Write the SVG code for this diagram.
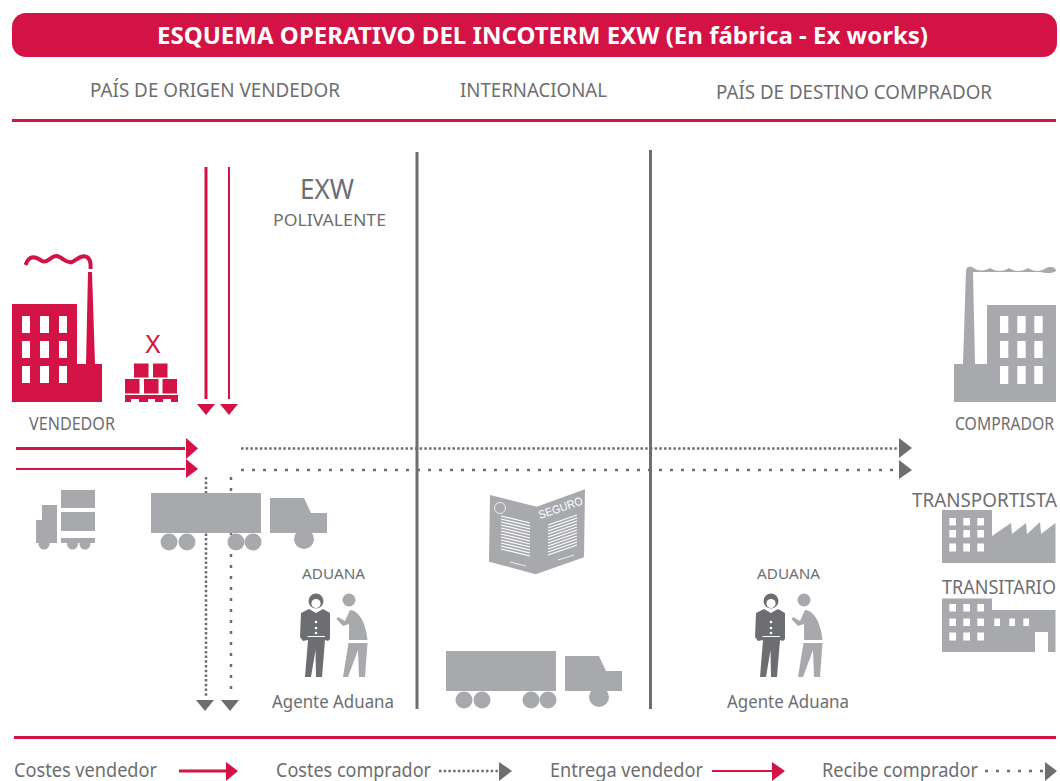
<svg xmlns="http://www.w3.org/2000/svg" xmlns:xlink="http://www.w3.org/1999/xlink" width="1060" height="781" viewBox="0 0 1060 781">
<style>
text{font-family:"Noto Sans","Open Sans","Liberation Sans",sans-serif;fill:#6d6e71}
.r{fill:#d31245}.g{fill:#a7a9ac}.d{fill:#6d6e71}.w{fill:#fff}
.ln{fill:none;stroke:#d31245}
.dt{fill:none;stroke:#6d6e71;stroke-width:2.5}
.dn{stroke-dasharray:2.5 2.2}.sp{stroke-dasharray:3 8}
.div{fill:none;stroke:#6d6e71;stroke-width:3}
.rule{fill:none;stroke:#d31245;stroke-width:3}
.ps{stroke:#a7a9ac;stroke-width:.1}
</style>
<defs>
<g id="wheels"><circle cx="169" cy="542" r="8.5" class="g"/><circle cx="187" cy="542" r="8.5" class="g"/><circle cx="236" cy="542" r="8.5" class="g"/><circle cx="253" cy="542" r="8.5" class="g"/></g>
<g id="truck">
<rect x="151" y="493" width="110" height="40" class="g"/>
<use xlink:href="#wheels" href="#wheels"/>
<path class="g" d="M270 498H304L311 513H327V533H270Z"/>
<circle cx="304" cy="539" r="10" class="g"/>
</g>
<g id="agents">
<circle cx="316" cy="601" r="7.5" class="d"/><circle cx="316" cy="603.5" r="4.6" class="w"/>
<path class="d" d="M309 609L316 613L323 609L330 613L330 639L328 641L325 640L322 677H316L315.500 650L311 677H305L308 640L303 641L300 637L301 613Z"/>
<path d="M307.500 636.500H325" fill="none" stroke="#fff" stroke-width="1"/>
<circle cx="316" cy="622" r="1.300" class="w"/><circle cx="316" cy="628" r="1.300" class="w"/><circle cx="316" cy="633" r="1.300" class="w"/>
<circle cx="349" cy="600" r="6.500" class="g"/>
<path class="g" d="M350 610C358 610 366 622 367.500 640H349V624L343 626L336.500 619L338 617L345 621Z"/>
<path class="g" d="M348.500 643H367.500L365 677H359L358 650L348 677H343Z"/>
</g>
</defs>

<g id="header">
<rect x="12" y="13" width="1045" height="44" rx="14" class="r"/>
<text x="157" y="44" font-size="24" font-weight="700" style="fill:#fff" textLength="771" lengthAdjust="spacingAndGlyphs">ESQUEMA OPERATIVO DEL INCOTERM EXW (En fábrica - Ex works)</text>
</g>
<g id="columns">
<text x="90" y="97" font-size="20" textLength="250" lengthAdjust="spacingAndGlyphs">PAÍS DE ORIGEN VENDEDOR</text>
<text x="460" y="97" font-size="20" textLength="147" lengthAdjust="spacingAndGlyphs">INTERNACIONAL</text>
<text x="716" y="99" font-size="20" textLength="276" lengthAdjust="spacingAndGlyphs">PAÍS DE DESTINO COMPRADOR</text>
<path class="rule" d="M12 120.500H1056"/>
<path class="div" d="M417 152V709"/>
<path class="div" d="M650.500 150V709"/>
<path class="rule" d="M14 737.500H1056"/>
</g>
<g id="exw">
<text x="300" y="199" font-size="27" textLength="54" lengthAdjust="spacingAndGlyphs">EXW</text>
<text x="273" y="226" font-size="17" textLength="113" lengthAdjust="spacingAndGlyphs">POLIVALENTE</text>
</g>

<g id="connectors">
<path class="ln" stroke-width="3" d="M206 167V399"/><path class="r" d="M197 404H215L206 415Z"/>
<path class="ln" stroke-width="2" d="M229 167V399"/><path class="r" d="M220 404H238L229 415Z"/>
<path class="ln" stroke-width="3" d="M16 448.500H185"/><path class="r" d="M186 438L198 448.500L186 459Z"/>
<path class="ln" stroke-width="2" d="M16 469H185"/><path class="r" d="M186 459L198 469L186 478Z"/>
<path class="dt dn" d="M241 448.500H898"/><path class="d" d="M899 438L912 448L899 458Z"/>
<path class="dt sp" d="M241 470H898"/><path class="d" d="M899 460L912 470L899 479Z"/>
<path class="dt dn" d="M206 477V697"/><path class="d" d="M196 700H214L205 711Z"/>
<path class="dt sp" d="M231 477V697"/><path class="d" d="M221 700H239L230 711Z"/>
</g>

<g id="vendedor">
<path class="r" d="M12 304H77V364H86L88 272H92L95 364H102V402H12Z"/>
<g class="w">
<rect x="22" y="316" width="8" height="17"/><rect x="40" y="316" width="9" height="17"/><rect x="59" y="316" width="8" height="17"/>
<rect x="22" y="341" width="8" height="17"/><rect x="40" y="341" width="9" height="17"/><rect x="59" y="341" width="8" height="17"/>
<rect x="22" y="366" width="8" height="17"/><rect x="40" y="366" width="9" height="17"/><rect x="59" y="366" width="8" height="17"/>
</g>
<path d="M25.500 265C30 253 37 258 42 261C48 264 51 255 57 256C63 257 66 264 72 262C77 260 81 254 87 257C90 259 91 263 90.500 269" fill="none" stroke="#d31245" stroke-width="4"/>
<text x="29" y="430" font-size="17.500" textLength="86" lengthAdjust="spacingAndGlyphs">VENDEDOR</text>
</g>
<g id="mercancia">
<text x="153" y="353" font-size="26" text-anchor="middle" style="fill:#d31245" textLength="15" lengthAdjust="spacingAndGlyphs">X</text>
<g class="r">
<rect x="134" y="363.500" width="14.500" height="14"/><rect x="153" y="363.500" width="14.500" height="14"/>
<rect x="125" y="379" width="14.500" height="14.500"/><rect x="144" y="379" width="14.500" height="14.500"/><rect x="162.500" y="379" width="14.500" height="14.500"/>
<path d="M125 395H178V402H171V399H163V402H155V399H148V402H139V399H131V402H125Z"/>
</g>
</g>
<g id="camion-pequeno">
<rect x="61" y="490" width="34" height="18" class="g"/><rect x="61" y="512" width="34" height="19" class="g"/><rect x="61" y="538" width="34" height="5" class="g"/>
<path class="g" d="M42 505H57V543H36V520H42Z"/>
<circle cx="44" cy="544" r="5.500" class="g"/><circle cx="72.500" cy="544" r="5.500" class="g"/><circle cx="85" cy="544" r="5.500" class="g"/>
</g>
<g id="camion-origen"><use xlink:href="#truck" href="#truck"/></g>
<g id="aduana-origen">
<text x="302" y="579" font-size="15" textLength="63" lengthAdjust="spacingAndGlyphs">ADUANA</text>
<use xlink:href="#agents" href="#agents"/>
<text x="272" y="708" font-size="18" textLength="122" lengthAdjust="spacingAndGlyphs">Agente Aduana</text>
</g>
<g id="seguro">
<path class="g" d="M490 495L536.700 506.700L585 489.300L584 557.300L535.700 574.300L489 561.700Z"/>
<circle cx="500" cy="508" r="5.500" fill="none" stroke="#fff" stroke-width=".8"/>
<path fill="none" stroke="#fff" stroke-width="1.100" d="M501 516L530 523M501 519L530 526M501 522L530 529M501 525L530 532M501 528L530 535M501 531L530 538M501 534L530 541M501 537L530 544M501 540L530 547M501 543L530 550M501 546L530 553M501 549L530 556M548 525L577 515M548 528L577 518M548 531L577 521M548 534L577 524M548 537L577 527M548 540L577 530M548 543L577 533M548 546L577 536M548 549L577 539M548 552L577 542M548 555L577 545"/>
<path fill="none" stroke="#fff" stroke-width=".8" d="M510 562L526 566M558 560L574 555"/>
<text x="0" y="0" font-size="11.500" transform="translate(540 519) rotate(-19)" style="fill:#fff;font-family:'Liberation Sans',sans-serif" textLength="46" lengthAdjust="spacingAndGlyphs">SEGURO</text>
</g>
<g id="camion-internacional"><use xlink:href="#truck" href="#truck" transform="translate(295 158)"/></g>
<g id="aduana-destino">
<text x="757" y="579" font-size="15" textLength="63" lengthAdjust="spacingAndGlyphs">ADUANA</text>
<use xlink:href="#agents" href="#agents" transform="translate(455 0)"/>
<text x="727" y="708" font-size="18" textLength="122" lengthAdjust="spacingAndGlyphs">Agente Aduana</text>
</g>
<g id="comprador">
<path class="g" d="M987 305H1056V402H954V364H963L966 271C966 267 969 266 972 267C978 272 985 271 990 268C996 272 1003 272 1009 268C1015 272 1022 272 1028 268C1034 272 1041 272 1046 268C1050 266 1056 267 1056 271C1052 274 1045 273 1040 272H973L975 364H987Z"/>
<g class="w">
<rect x="1000" y="316" width="8.300" height="17"/><rect x="1017.300" y="316" width="8.400" height="17"/><rect x="1034.300" y="316" width="8.400" height="17"/>
<rect x="1000" y="341" width="8.300" height="17"/><rect x="1017.300" y="341" width="8.400" height="17"/><rect x="1034.300" y="341" width="8.400" height="17"/>
<rect x="1000" y="366" width="8.300" height="18"/><rect x="1017.300" y="366" width="8.400" height="18"/><rect x="1034.300" y="366" width="8.400" height="18"/>
</g>
<text x="955" y="430" font-size="18" textLength="99" lengthAdjust="spacingAndGlyphs">COMPRADOR</text>
</g>
<g id="transportista">
<text x="912" y="507" font-size="20" textLength="145" lengthAdjust="spacingAndGlyphs">TRANSPORTISTA</text>
<path class="g" d="M942 510H992V536L1011 523L1012 534L1026 523L1027 534L1040 522L1041 534L1055.500 523V563H942Z"/>
<g class="w">
<rect x="949.300" y="518" width="6.700" height="7.500"/><rect x="963.300" y="518" width="6.700" height="7.500"/><rect x="977.300" y="518" width="6.700" height="7.500"/>
<rect x="949.300" y="530" width="6.700" height="7.500"/><rect x="963.300" y="530" width="6.700" height="7.500"/><rect x="977.300" y="530" width="6.700" height="7.500"/>
<rect x="949.300" y="543.500" width="6.700" height="8"/><rect x="963.300" y="543.500" width="6.700" height="8"/><rect x="977.300" y="543.500" width="6.700" height="8"/>
</g>
</g>
<g id="transitario">
<text x="942" y="594" font-size="20" textLength="114" lengthAdjust="spacingAndGlyphs">TRANSITARIO</text>
<path class="g" d="M942 598.500H992V610H1055.500V652H1048V632H1035V652H942Z"/>
<g class="w">
<rect x="949.300" y="604" width="6.700" height="7.500"/><rect x="963.300" y="604" width="6.700" height="7.500"/><rect x="977.300" y="604" width="6.700" height="7.500"/>
<rect x="949.300" y="618.500" width="6.700" height="7.500"/><rect x="963.300" y="618.500" width="6.700" height="7.500"/><rect x="977.300" y="618.500" width="6.700" height="7.500"/>
<rect x="949.300" y="632.500" width="6.700" height="8"/><rect x="963.300" y="632.500" width="6.700" height="8"/><rect x="977.300" y="632.500" width="6.700" height="8"/>
<rect x="994.300" y="618.500" width="5.700" height="7.500"/><rect x="1009.300" y="618.500" width="5.700" height="7.500"/><rect x="1023.300" y="618.500" width="5.700" height="7.500"/>
</g>
</g>
<g id="leyenda">
<text x="14" y="777" font-size="19" textLength="143" lengthAdjust="spacingAndGlyphs">Costes vendedor</text>
<path class="ln" stroke-width="3" d="M179 771H226"/><path class="r" d="M226 762L238 771L226 781Z"/>
<text x="276" y="777" font-size="19" textLength="155" lengthAdjust="spacingAndGlyphs">Costes comprador</text>
<path class="dt dn" stroke-width="2" d="M439 771H498"/><path class="d" d="M499 762L512 771L499 781Z"/>
<text x="550" y="777" font-size="19" textLength="153" lengthAdjust="spacingAndGlyphs">Entrega vendedor</text>
<path class="ln" stroke-width="2" d="M712 771H772"/><path class="r" d="M772 762L785 771L772 781Z"/>
<text x="822" y="777" font-size="19" textLength="156" lengthAdjust="spacingAndGlyphs">Recibe comprador</text>
<path class="dt sp" d="M985 771H1044"/><path class="d" d="M1045 762L1057 771L1045 781Z"/>
</g>
</svg>
